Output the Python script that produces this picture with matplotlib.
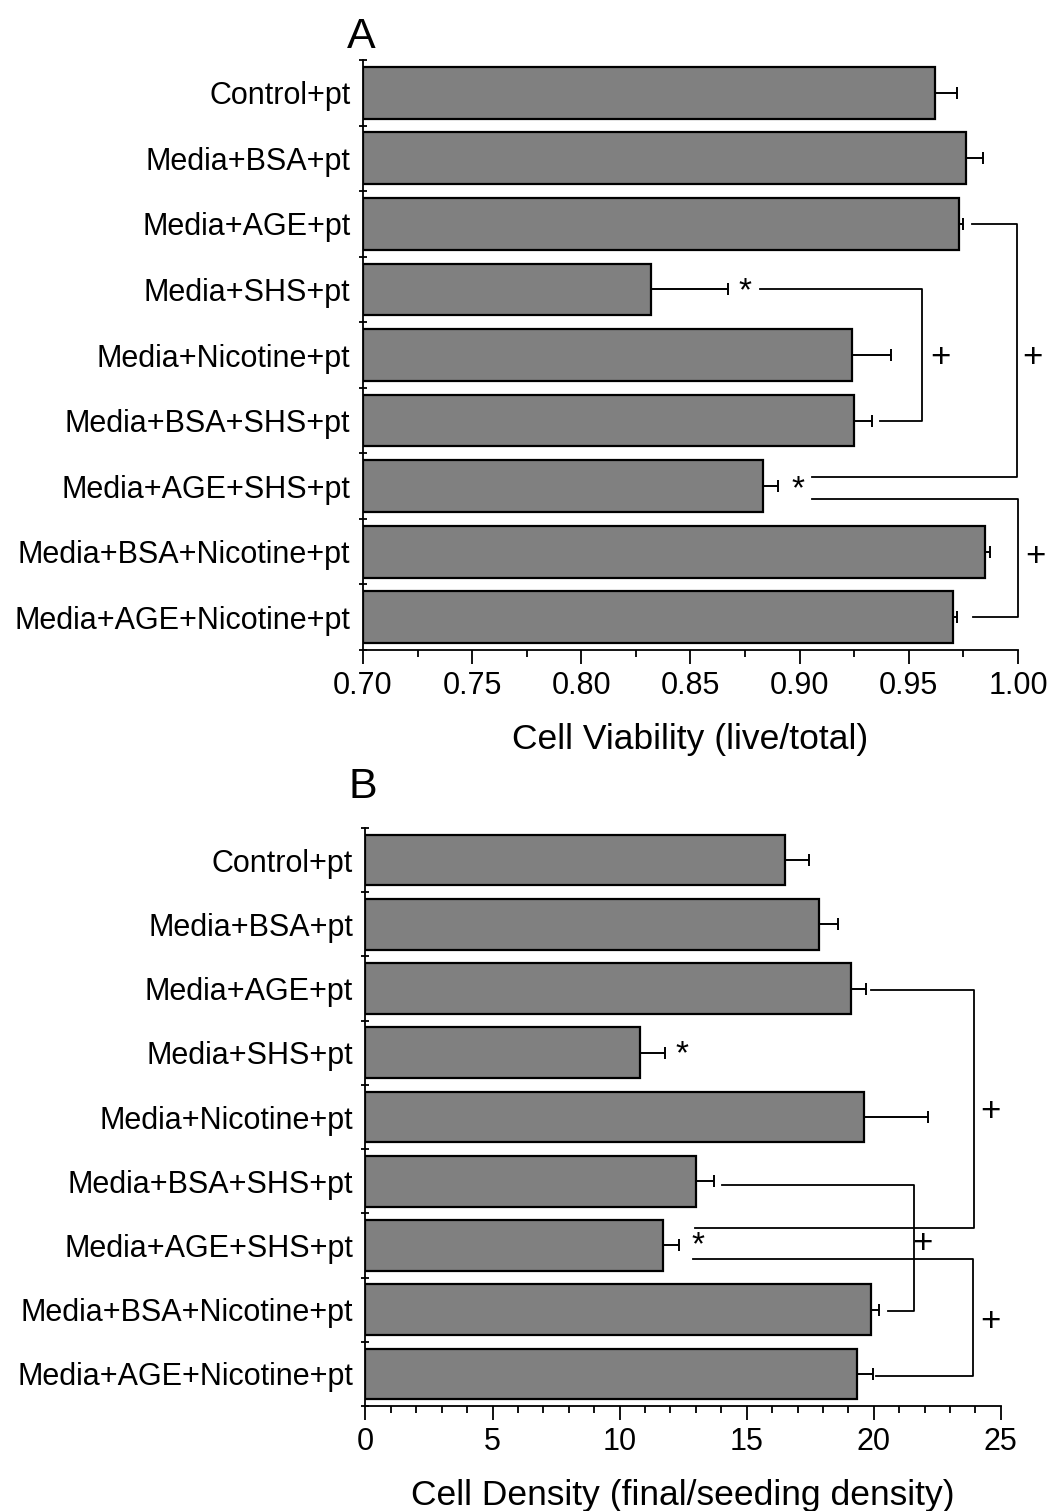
import numpy as np
import matplotlib
matplotlib.use("Agg")
import matplotlib.pyplot as plt
from matplotlib.ticker import MultipleLocator, FormatStrFormatter

plt.rcParams['font.family'] = ['Liberation Sans', 'DejaVu Sans']

groups = ["Control+pt", "Media+BSA+pt", "Media+AGE+pt", "Media+SHS+pt",
          "Media+Nicotine+pt", "Media+BSA+SHS+pt", "Media+AGE+SHS+pt",
          "Media+BSA+Nicotine+pt", "Media+AGE+Nicotine+pt"]

# Panel A: cell viability
viability = [0.962, 0.976, 0.973, 0.832, 0.924, 0.925, 0.883, 0.985, 0.970]
viability_err = [0.010, 0.008, 0.002, 0.035, 0.018, 0.008, 0.007, 0.002, 0.002]

# Panel B: cell density
density = [16.5, 17.85, 19.1, 10.8, 19.6, 13.0, 11.7, 19.9, 19.35]
density_err = [0.95, 0.75, 0.6, 1.0, 2.55, 0.7, 0.65, 0.3, 0.6]

# significance: "*" marks (group index), "+" brackets between groups
star_a = [3, 6]
star_b = [3, 6]
pairs_a = [(3, 5), (2, 6), (6, 8)]
pairs_b = [(2, 6), (5, 7), (6, 8)]

fig = plt.figure(figsize=(10.52, 15.11), dpi=100)
axA = fig.add_axes([0.345, 1 - 650 / 1511, 0.6227, 590 / 1511])
axB = fig.add_axes([0.3474, 1 - 1406 / 1511, 0.604, 578 / 1511])


def draw_panel(ax, vals, errs, xmin, xmax, major, minor):
    y = np.arange(len(groups))
    ax.barh(y, np.array(vals) - xmin, left=xmin, height=0.79,
            color="#808080", edgecolor="black", linewidth=1.6, zorder=2)
    ax.errorbar(vals, y, xerr=[np.zeros(len(errs)), errs], fmt="none",
                ecolor="black", elinewidth=1.4, capsize=4, capthick=1.4, zorder=3)
    ax.set_xlim(xmin, xmax)
    ax.set_ylim(len(groups) - 0.5, -0.5)
    ax.set_yticks(y)
    ax.set_yticklabels(groups, fontsize=22)
    ax.set_yticks(np.arange(-0.5, len(groups)), minor=True)
    ax.tick_params(axis="y", which="major", length=0, pad=9)
    ax.tick_params(axis="y", which="minor", length=6, direction="inout", width=1.3)
    ax.xaxis.set_major_locator(MultipleLocator(major))
    ax.xaxis.set_minor_locator(MultipleLocator(minor))
    ax.tick_params(axis="x", which="major", length=10, width=1.3, labelsize=22, pad=5)
    ax.tick_params(axis="x", which="minor", length=5, width=1.3)
    for s in ["top", "right"]:
        ax.spines[s].set_visible(False)
    for s in ["left", "bottom"]:
        ax.spines[s].set_linewidth(1.3)


def bracket(ax, y1, y2, x1, x2, x_right, lw=1.3):
    ax.plot([x1, x_right, x_right, x2], [y1, y1, y2, y2],
            color="black", lw=lw, clip_on=False, zorder=4)


# ---- panel A
draw_panel(axA, viability, viability_err, 0.70, 1.00, 0.05, 0.025)
axA.xaxis.set_major_formatter(FormatStrFormatter("%.2f"))
axA.set_xlabel("Cell Viability (live/total)", fontsize=25.5, labelpad=16)
fig.text(361 / 1052, 1 - 48 / 1511, "A", fontsize=31, ha="center", va="baseline")

axA.text(0.875, 3.03, "*", fontsize=24, ha="center", va="center")
axA.text(0.8993, 6.06, "*", fontsize=24, ha="center", va="center")

bracket(axA, 3.0, 5.0, 0.882, 0.9368, 0.956)
axA.text(0.9643, 4.04, "+", fontsize=25, ha="center", va="center")
bracket(axA, 2.0, 5.86, 0.979, 0.9057, 0.9995)
axA.text(1.0065, 4.04, "+", fontsize=25, ha="center", va="center")
bracket(axA, 6.19, 8.0, 0.9057, 0.9794, 1.0)
axA.text(1.0078, 7.08, "+", fontsize=25, ha="center", va="center")

# ---- panel B
draw_panel(axB, density, density_err, 0, 25, 5, 1)
axB.set_xlabel("Cell Density (final/seeding density)", fontsize=25.5, labelpad=16)
fig.text(363 / 1052, 1 - 798 / 1511, "B", fontsize=31, ha="center", va="baseline")

axB.text(12.47, 3.03, "*", fontsize=24, ha="center", va="center")
axB.text(13.1, 6.0, "*", fontsize=24, ha="center", va="center")

bracket(axB, 2.02, 5.73, 19.9, 12.96, 23.94)
axB.text(24.6, 3.92, "+", fontsize=25, ha="center", va="center")
bracket(axB, 5.06, 7.02, 14.02, 20.54, 21.58)
axB.text(21.9, 5.97, "+", fontsize=25, ha="center", va="center")
bracket(axB, 6.21, 8.03, 12.9, 20.1, 23.9)
axB.text(24.6, 7.19, "+", fontsize=25, ha="center", va="center")

fig.savefig("out.png", dpi=100)
